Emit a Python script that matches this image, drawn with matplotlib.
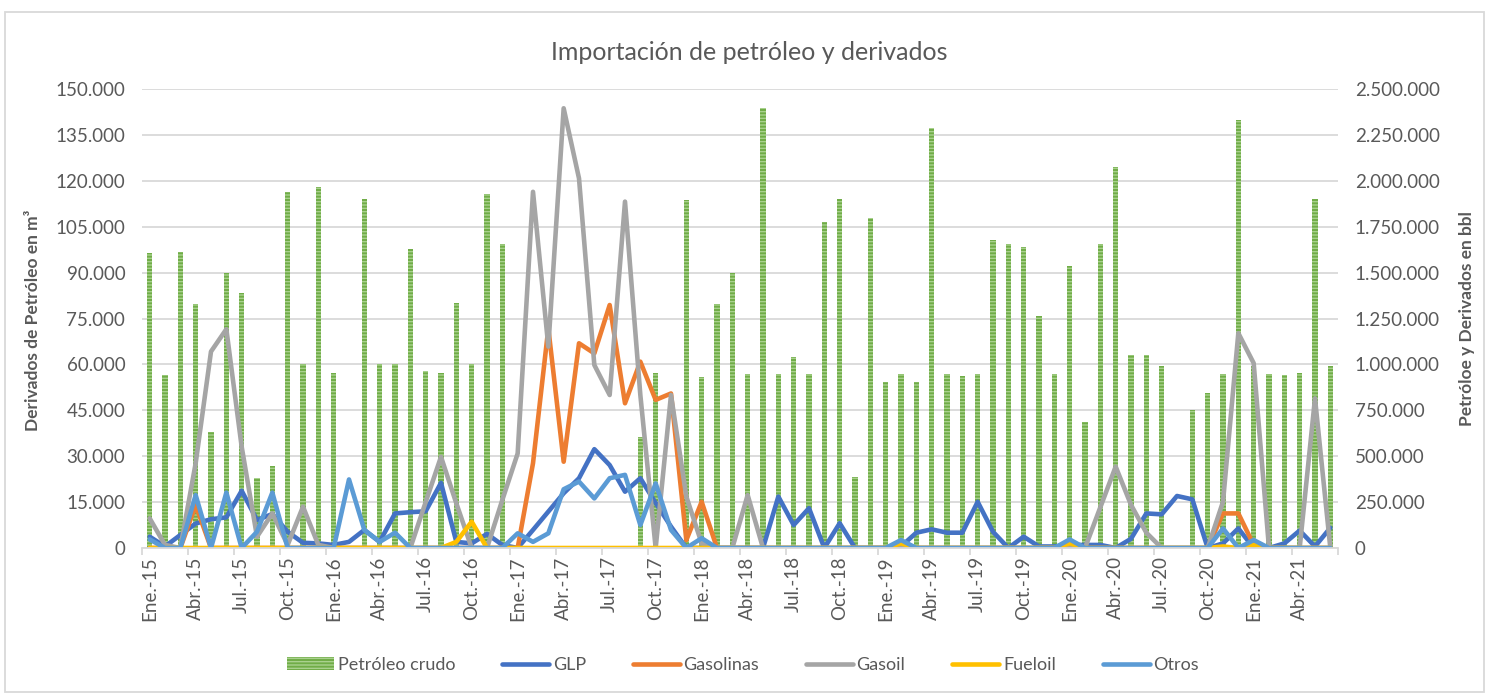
import numpy as np
import matplotlib.pyplot as plt
from matplotlib.ticker import FuncFormatter
from matplotlib.patches import Rectangle, Patch
from matplotlib.lines import Line2D

plt.rcParams['font.family'] = ['Lato', 'DejaVu Sans']
plt.rcParams['hatch.linewidth'] = 1.0

# Importaciones mensuales, Ene-15 a Jun-21
# crudo en bbl (eje derecho), derivados en m3 (eje izquierdo)
crudo = [1605000, 942000, 1612000, 1327000, 630000, 1496000, 1387000, 380000, 447000, 1937000,
         1000000, 1968000, 951000, 0, 1899000, 1000000, 1000000, 1627000, 964000, 951000,
         1336000, 1000000, 1926000, 1656000, 0, 0, 0, 0, 0, 0,
         0, 0, 606000, 951000, 0, 1895000, 933000, 1327000, 1496000, 948000,
         2395000, 948000, 1042000, 948000, 1776000, 1899000, 388000, 1797000, 902000, 948000,
         902000, 2289000, 948000, 939000, 948000, 1678000, 1656000, 1641000, 1264000, 948000,
         1536000, 686000, 1656000, 2077000, 1049000, 1049000, 993000, 0, 752000, 842000,
         948000, 2331000, 990000, 948000, 944000, 951000, 1901000, 993000]

glp = [3700, 500, 4250, 8000, 9400, 10000, 18700, 9150, 11100, 5300,
       1700, 1500, 1000, 2000, 5900, 2000, 11300, 11700, 12000, 21300,
       2000, 1500, 4600, 1000, 0, 5900, 11900, 17900, 22800, 32300,
       27100, 18400, 22800, 14700, 7000, 0, 0, 0, 0, 0,
       0, 16800, 7500, 13000, 0, 8100, 0, 0, 0, 500,
       5000, 6100, 5000, 5000, 15100, 5300, 0, 3700, 500, 500,
       1000, 1000, 1000, 0, 3000, 11300, 11000, 17000, 15900, 0,
       1500, 6400, 0, 0, 1500, 5700, 500, 6600]

gasolinas = [0, 0, 0, 14000, 0, 0, 0, 0, 0, 0,
             0, 0, 0, 0, 0, 0, 0, 0, 0, 0,
             0, 0, 0, 0, 0, 27700, 71800, 28200, 66900, 63600,
             79400, 47300, 60900, 48400, 50500, 2600, 15100, 0, 0, 0,
             0, 0, 0, 0, 0, 0, 0, 0, 0, 0,
             0, 0, 0, 0, 0, 0, 0, 0, 0, 0,
             0, 0, 0, 0, 0, 0, 0, 0, 0, 0,
             11300, 11300, 1000, 0, 0, 0, 0, 0]

gasoil = [9700, 1000, 0, 27700, 64200, 71500, 33100, 3700, 11300, 1000,
          13500, 1000, 0, 0, 0, 0, 0, 0, 15000, 29800,
          14600, 0, 0, 15700, 30900, 116400, 65800, 143700, 120800, 59800,
          50000, 113200, 50000, 0, 50000, 16800, 1500, 0, 0, 17300,
          0, 0, 0, 0, 0, 0, 0, 0, 0, 0,
          0, 0, 0, 0, 0, 0, 0, 0, 0, 0,
          0, 0, 13300, 26600, 14100, 5000, 0, 0, 0, 0,
          15100, 70200, 60400, 0, 0, 0, 48900, 0]

fueloil = [0, 0, 0, 0, 0, 0, 0, 0, 0, 0,
           0, 0, 0, 0, 0, 0, 0, 0, 0, 0,
           2000, 8600, 0, 0, 0, 0, 0, 0, 0, 0,
           0, 0, 0, 0, 0, 0, 0, 0, 0, 0,
           0, 0, 0, 0, 0, 0, 0, 0, 0, 1500,
           0, 0, 0, 0, 0, 0, 0, 0, 0, 0,
           1500, 0, 0, 0, 0, 0, 0, 0, 0, 0,
           500, 0, 1000, 0, 0, 0, 0, 0]

otros = [2800, 0, 0, 17300, 0, 18100, 0, 5300, 18100, 0,
         0, 0, 0, 22400, 5900, 2000, 5000, 0, 0, 0,
         0, 0, 0, 0, 4800, 2000, 4800, 19200, 21700, 16200,
         22800, 23900, 7500, 21100, 5900, 0, 3200, 0, 0, 0,
         0, 0, 0, 0, 0, 0, 0, 0, 0, 2600,
         0, 0, 0, 0, 0, 0, 0, 0, 0, 0,
         2800, 0, 0, 0, 0, 0, 0, 0, 0, 0,
         6400, 0, 2600, 0, 0, 0, 0, 0]

etiquetas = ['Ene.-15', 'Abr.-15', 'Jul.-15', 'Oct.-15',
             'Ene.-16', 'Abr.-16', 'Jul.-16', 'Oct.-16',
             'Ene.-17', 'Abr.-17', 'Jul.-17', 'Oct.-17',
             'Ene.-18', 'Abr.-18', 'Jul.-18', 'Oct.-18',
             'Ene.-19', 'Abr.-19', 'Jul.-19', 'Oct.-19',
             'Ene.-20', 'Abr.-20', 'Jul.-20', 'Oct.-20',
             'Ene.-21', 'Abr.-21']

series = [('GLP', glp, '#4472C4'),
          ('Gasolinas', gasolinas, '#ED7D31'),
          ('Gasoil', gasoil, '#A5A5A5'),
          ('Fueloil', fueloil, '#FFC000'),
          ('Otros', otros, '#5B9BD5')]

gris = '#595959'
n = len(crudo)
x = np.arange(n)
W, H = 1486, 695

fig = plt.figure(figsize=(W / 100, H / 100), dpi=100)
ax = fig.add_axes([142 / W, 147 / H, 1196 / W, 459 / H])
ax2 = ax.twinx()
ax.set_zorder(ax2.get_zorder() + 1)
ax.patch.set_visible(False)

# barras de crudo (eje derecho)
ax2.bar(x, crudo, width=0.33, color='#70AD47', edgecolor='#A9D18E',
        hatch='-----', linewidth=0)
ax2.set_ylim(0, 2500000)
ax2.set_yticks(np.arange(0, 2500001, 250000))
ax2.grid(axis='y', color='#D9D9D9', linewidth=1.3)
ax2.set_axisbelow(True)

# lineas de derivados (eje izquierdo)
for nombre, vals, col in series:
    ax.plot(x, vals, color=col, linewidth=3.3, solid_joinstyle='round',
            solid_capstyle='round')
ax.set_ylim(0, 150000)
ax.set_yticks(np.arange(0, 150001, 15000))
ax.set_xlim(-0.5, n - 0.5)

fmt = FuncFormatter(lambda v, p: f'{v:,.0f}'.replace(',', '.'))
ax.yaxis.set_major_formatter(fmt)
ax2.yaxis.set_major_formatter(fmt)

for a in (ax, ax2):
    for s in a.spines.values():
        s.set_visible(False)
    a.tick_params(axis='y', length=0, labelsize=13.5, labelcolor=gris, pad=12)
ax.spines['bottom'].set_visible(True)
ax.spines['bottom'].set_color('#D9D9D9')
ax.spines['bottom'].set_linewidth(1.3)

ax.set_xticks(np.arange(-0.5, n + 0.5, 3))
ax.set_xticklabels([])
ax.set_xticks(np.arange(0, n, 3), minor=True)
ax.set_xticklabels(etiquetas, minor=True, rotation=90)
ax.tick_params(axis='x', which='major', length=5, width=1.3, color='#D9D9D9')
ax.tick_params(axis='x', which='minor', length=0, labelsize=13.5,
               labelcolor=gris, pad=6)
ax2.tick_params(axis='x', which='both', length=0, labelbottom=False)

ax.set_ylabel('Derivados de Petróleo en m³', fontsize=12.5, fontweight='bold',
              color=gris)
ax.yaxis.set_label_coords(-0.0845, 0.495)
ax2.set_ylabel('Petróloe y Derivados en bbl', fontsize=12.5, fontweight='bold',
               color=gris)
ax2.yaxis.set_label_coords(1.101, 0.5)

fig.text(749 / W, 1 - 52 / H, 'Importación de petróleo y derivados',
         ha='center', va='center', fontsize=18, color=gris)

handles = [Patch(facecolor='#70AD47', edgecolor='#A9D18E', hatch='-----', linewidth=0)]
labels = ['Petróleo crudo']
for nombre, vals, col in series:
    handles.append(Line2D([0], [0], color=col, linewidth=3.3, solid_capstyle='round'))
    labels.append(nombre)
leg = fig.legend(handles, labels, loc='center', bbox_to_anchor=(0.5, 1 - 665 / H),
                 ncol=6, frameon=False, fontsize=13, handlelength=2.6,
                 handletextpad=0.2, columnspacing=2.6)
for t in leg.get_texts():
    t.set_color(gris)

fig.patches.append(Rectangle((5 / W, 3 / H), 1479 / W, 680 / H,
                             transform=fig.transFigure, fill=False,
                             edgecolor='#D9D9D9', linewidth=1.3))

fig.savefig('out.png', dpi=100)
